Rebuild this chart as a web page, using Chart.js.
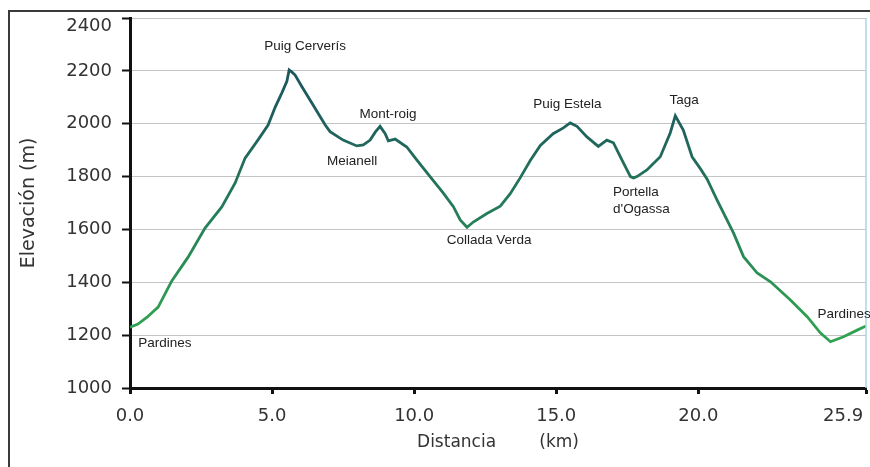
<!DOCTYPE html>
<html>
<head>
<meta charset="utf-8">
<script src="https://cdn.jsdelivr.net/npm/chart.js@4.4.1/dist/chart.umd.min.js"></script>
<style>
  body { margin: 0; background: #fff; }
  #wrap { width: 870px; height: 467px; }
</style>
</head>
<body>
<div id="wrap"><canvas id="perfil" width="870" height="467"></canvas></div>
<script>
// perfil de elevación (km, m)
const distKm = [0.0, 0.28, 0.6, 0.99, 1.47, 2.05, 2.64, 3.23, 3.70, 4.05, 4.50, 4.86, 5.11, 5.34, 5.52, 5.60, 5.70, 5.81, 6.05, 6.40, 6.87,
  7.04, 7.50, 7.98, 8.21, 8.45, 8.63, 8.80, 8.98, 9.09, 9.33, 9.74, 10.09, 10.56, 11.02, 11.38, 11.62, 11.86, 12.08, 12.56, 13.03,
  13.38, 13.73, 14.08, 14.44, 14.89, 15.25, 15.49, 15.73, 16.08, 16.48, 16.78, 17.01, 17.31, 17.61, 17.72, 17.84, 18.19, 18.66,
  19.01, 19.19, 19.47, 19.78, 20.07, 20.31, 20.66, 21.24, 21.59, 22.07, 22.54, 23.24, 23.83, 24.30, 24.65, 25.11, 25.59, 25.9];
const elevM = [1230, 1242, 1268, 1306, 1405, 1496, 1605, 1685, 1776, 1870, 1938, 1995, 2063, 2116, 2160, 2203, 2195, 2184, 2140, 2078, 1995,
  1970, 1938, 1916, 1920, 1938, 1968, 1990, 1962, 1935, 1942, 1912, 1863, 1800, 1738, 1686, 1636, 1608, 1628, 1660, 1688,
  1735, 1795, 1860, 1918, 1962, 1984, 2003, 1990, 1950, 1914, 1938, 1928, 1863, 1800, 1795, 1800, 1825, 1875,
  1965, 2030, 1976, 1875, 1830, 1790, 1711, 1586, 1497, 1435, 1402, 1333, 1270, 1208, 1175, 1194, 1219, 1235];

const xTicks = [0, 5, 10, 15, 20, 25.9];

// nombres de lugares
const placeNames = [['Puig Cerverís'], ['Mont-roig'], ['Meianell'], ['Collada Verda'], ['Puig Estela'], ['Taga'],
  ['Portella', "d'Ogassa"], ['Pardines'], ['Pardines']];
const placeKm = [6.16, 9.08, 7.82, 12.64, 15.39, 19.5, 17.0, 1.23, 24.19];
const placeElev = [2294, 2037, 1859, 1560, 2075, 2090, 1742, 1170, 1280];
const placeAlign = ['center', 'center', 'center', 'center', 'center', 'center', 'left', 'center', 'left'];

const marco = {
  id: 'marco',
  beforeDraw(chart) {
    const ctx = chart.ctx;
    ctx.save();
    ctx.fillStyle = '#fff';
    ctx.fillRect(0, 0, chart.width, chart.height);
    ctx.restore();
  },
  afterDraw(chart) {
    const ctx = chart.ctx;
    const a = chart.chartArea;
    ctx.save();
    ctx.strokeStyle = '#3a3a3a';
    ctx.lineWidth = 2;
    ctx.beginPath();
    ctx.moveTo(9, chart.height);
    ctx.lineTo(9, 11);
    ctx.lineTo(chart.width, 11);
    ctx.stroke();
    ctx.strokeStyle = '#a9d6e6';
    ctx.lineWidth = 1.5;
    ctx.beginPath();
    ctx.moveTo(a.right, a.top);
    ctx.lineTo(a.right, a.bottom);
    ctx.stroke();
    // nombres
    const xs = chart.scales.x, ys = chart.scales.y;
    ctx.fillStyle = '#222';
    ctx.font = '13.5px "Liberation Sans", Arial, sans-serif';
    ctx.textBaseline = 'middle';
    placeNames.forEach((lines, i) => {
      const px = xs.getPixelForValue(placeKm[i]);
      const py = ys.getPixelForValue(placeElev[i]);
      ctx.textAlign = placeAlign[i];
      lines.forEach((t, j) => ctx.fillText(t, px, py + j * 17));
    });
    ctx.restore();
  }
};

const ctx = document.getElementById('perfil').getContext('2d');

new Chart(ctx, {
  type: 'line',
  data: {
    datasets: [{
      data: distKm.map((d, i) => ({ x: d, y: elevM[i] })),
      borderColor: (c) => {
        const area = c.chart.chartArea;
        if (!area) return '#2a8a55';
        const g = c.chart.ctx.createLinearGradient(0, area.bottom, 0, area.top);
        g.addColorStop(0, '#37a856');
        g.addColorStop(0.2, '#2f9e50');
        g.addColorStop(0.5, '#24795a');
        g.addColorStop(0.75, '#1d5d5d');
        g.addColorStop(1, '#1a5058');
        return g;
      },
      borderWidth: 2.8,
      pointRadius: 0,
      tension: 0,
      fill: false,
    }]
  },
  options: {
    responsive: false,
    animation: false,
    layout: { padding: { top: 18, right: 4, left: 0, bottom: 0 } },
    plugins: { legend: { display: false }, tooltip: { enabled: false } },
    scales: {
      x: {
        type: 'linear',
        min: 0,
        max: 25.9,
        afterFit: (s) => { s.height = 79; s.paddingLeft = 0; s.paddingRight = 0; },
        afterBuildTicks: (s) => { s.ticks = xTicks.map(v => ({ value: v })); },
        ticks: {
          autoSkip: false,
          maxRotation: 0,
          padding: 12,
          color: '#333',
          font: { family: '"DejaVu Sans", Verdana, sans-serif', size: 18 },
          // la última etiqueta queda a la izquierda de su marca
          callback: (v) => v === 25.9 ? '25.9        ' : Number(v).toFixed(1),
        },
        grid: { drawOnChartArea: false, tickLength: 6, tickColor: '#111', tickWidth: 3 },
        border: { color: '#111', width: 3 },
        title: {
          display: true,
          text: 'Distancia        (km)',
          color: '#333',
          font: { family: '"DejaVu Sans", Verdana, sans-serif', size: 17 },
          padding: { top: 0, bottom: 14 },
        },
      },
      y: {
        min: 1000,
        max: 2400,
        afterFit: (s) => { s.width = 130; s.paddingTop = 0; s.paddingBottom = 0; },
        ticks: {
          stepSize: 200,
          padding: 10,
          color: '#333',
          font: { family: '"DejaVu Sans", Verdana, sans-serif', size: 18, lineHeight: 0.9 },
          // la etiqueta superior cae un poco por debajo de su línea
          callback: (v) => v === 2400 ? ['', '2400'] : String(v),
        },
        grid: {
          color: '#c4c4c4',
          lineWidth: 1,
          borderDash: [1, 1],
          tickLength: 8,
          tickColor: '#111',
          tickWidth: 2,
          tickBorderDash: [],
        },
        border: { color: '#111', width: 3 },
        title: {
          display: true,
          text: 'Elevación (m)',
          color: '#333',
          font: { family: '"DejaVu Sans", Verdana, sans-serif', size: 19 },
          padding: { top: 18, bottom: 0 },
        },
      }
    }
  },
  plugins: [marco]
});
</script>
</body>
</html>
